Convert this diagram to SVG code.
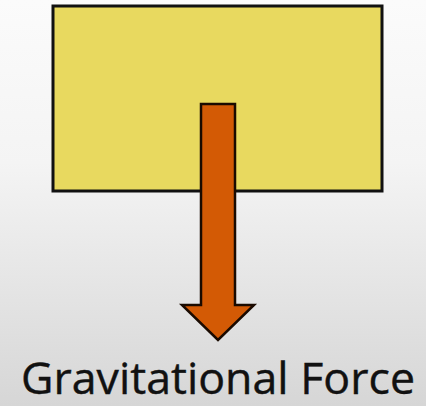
<svg xmlns="http://www.w3.org/2000/svg" width="426" height="406" viewBox="0 0 426 406">
<defs>
<linearGradient id="bg" x1="0" y1="0" x2="0" y2="1">
<stop offset="0" stop-color="#fbfbfb"/>
<stop offset="0.4" stop-color="#f4f4f4"/>
<stop offset="1" stop-color="#d6d6d6"/>
</linearGradient>
<style>
.box{fill:#e8d95f;stroke:#111;stroke-width:3}
.arrow{fill:#d35a05;stroke:#1a0a00;stroke-width:2.5;stroke-linejoin:miter}
.label{font-family:"Open Sans","Liberation Sans",sans-serif;font-size:43px;fill:#111;stroke:#111;stroke-width:0.4}
</style>
</defs>
<rect width="426" height="406" fill="url(#bg)"/>
<g id="block">
<rect class="box" x="53" y="6" width="329" height="185"/>
</g>
<g id="connectors">
<path class="arrow" d="M201 104 H235 V305 H254 L218 340 L182 305 H201 Z"/>
</g>
<g id="label">
<text class="label" x="21" y="394" textLength="394" lengthAdjust="spacingAndGlyphs">Gravitational Force</text>
</g>
</svg>
